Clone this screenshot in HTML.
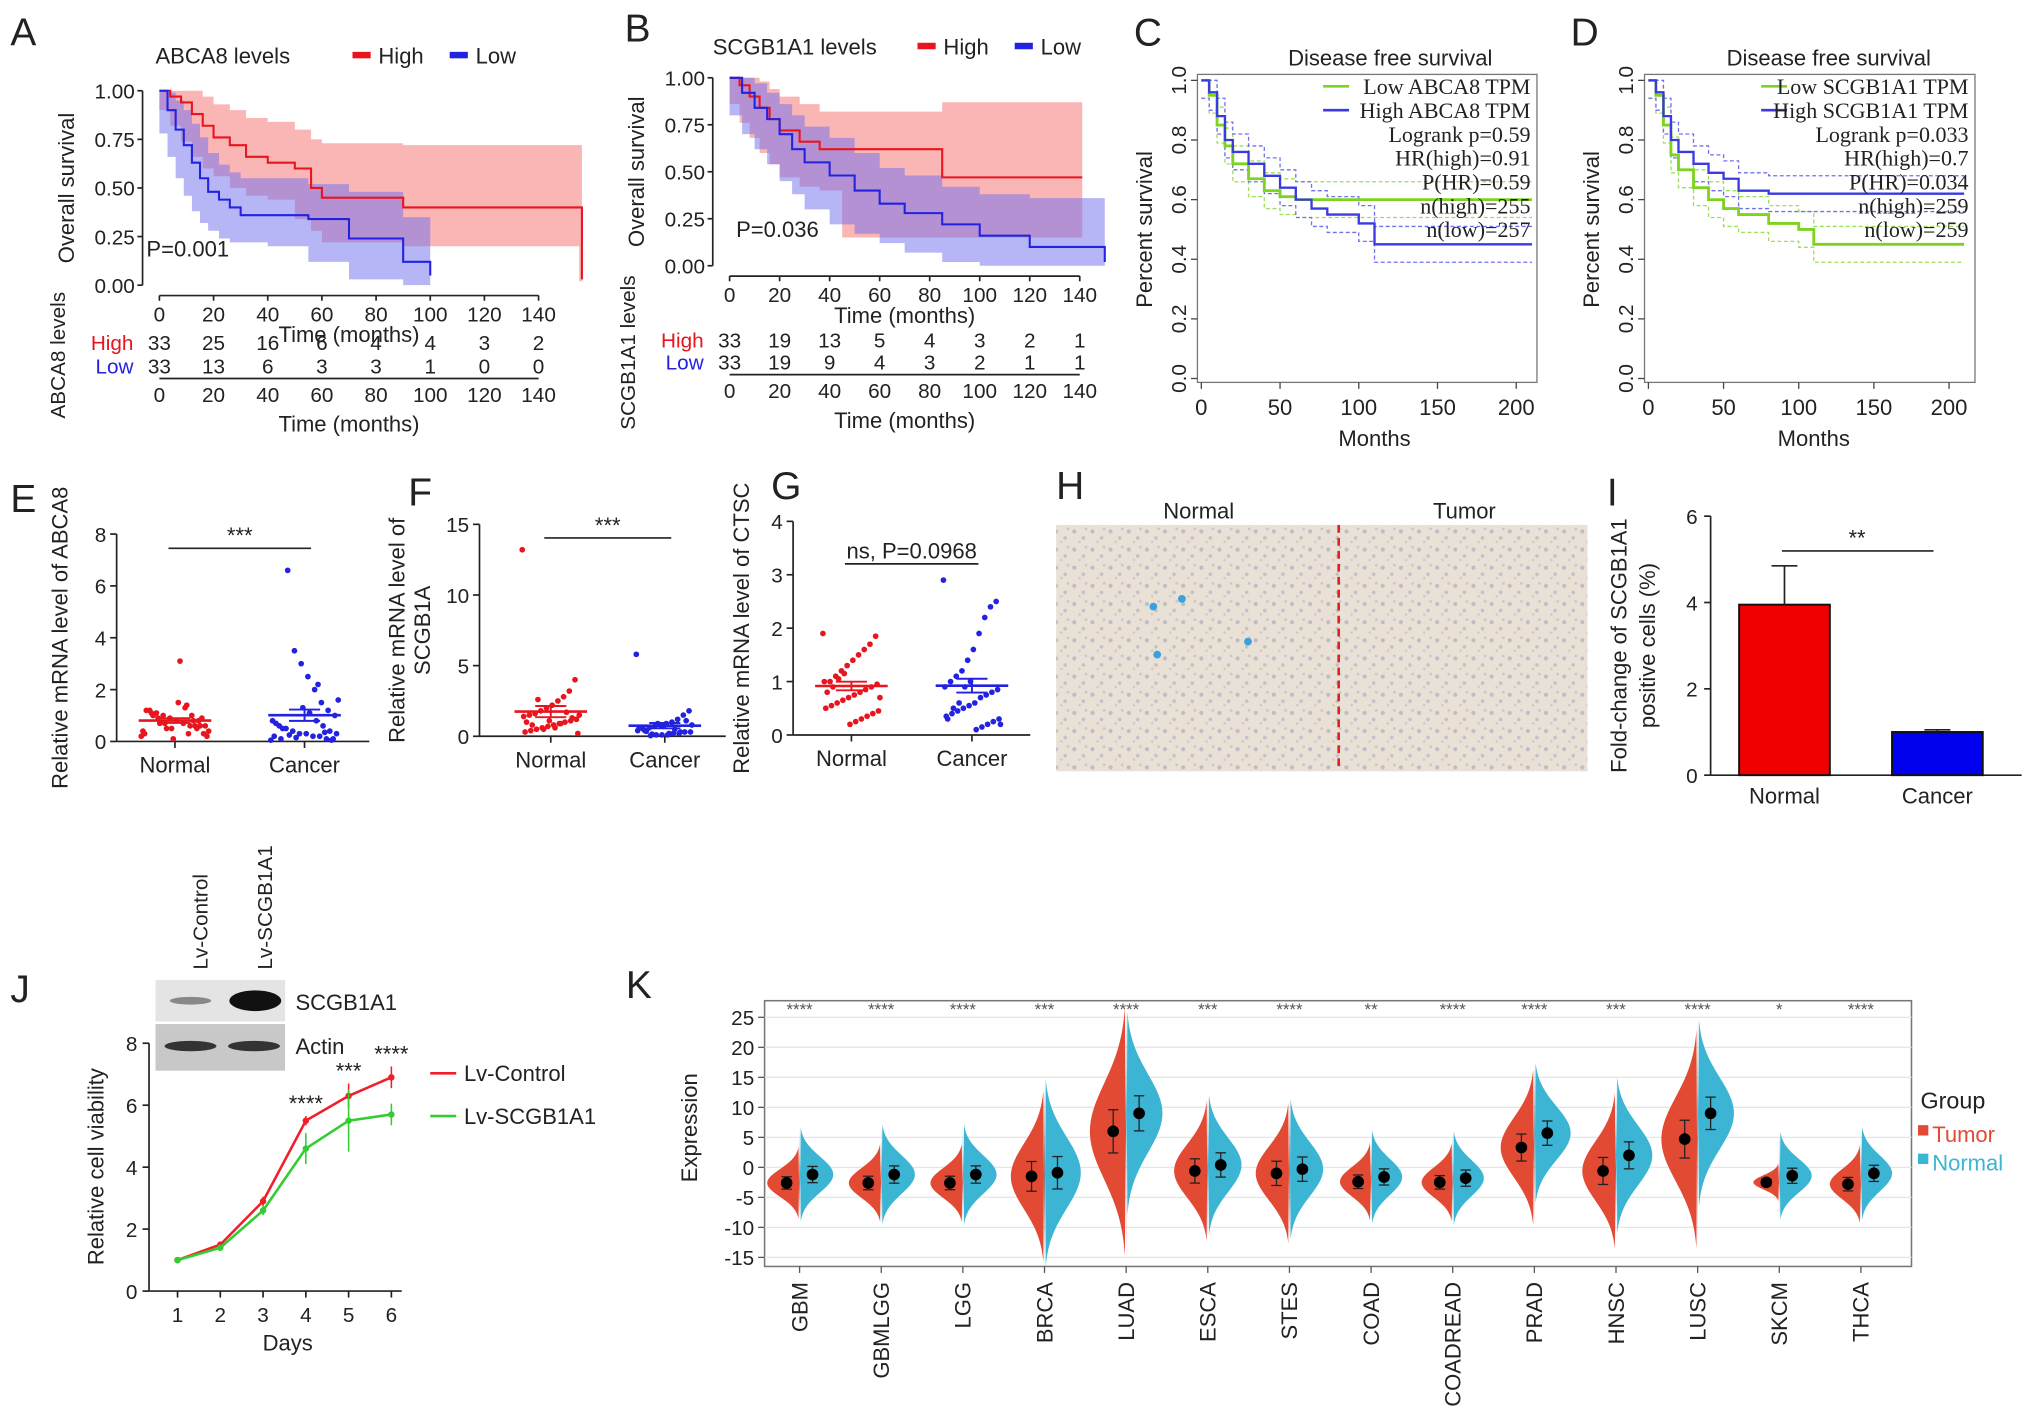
<!DOCTYPE html>
<html><head><meta charset="utf-8"><style>
html,body{margin:0;padding:0;background:#fff;}
svg{display:block;font-family:"Liberation Sans",sans-serif;}
</style></head><body>
<svg id="fig" width="2032" height="1422" viewBox="0 0 1568 1097" preserveAspectRatio="none" xmlns="http://www.w3.org/2000/svg">
<defs>
<pattern id="tissue" width="14" height="14" patternUnits="userSpaceOnUse">
<rect width="14" height="14" fill="#ece6dc"/>
<circle cx="3" cy="4" r="1.6" fill="#b3aec8"/><circle cx="10" cy="9" r="1.4" fill="#bbb6cc"/><circle cx="7" cy="12" r="1" fill="#cfc5b4"/><circle cx="12" cy="2" r="1.1" fill="#c5bdd0"/>
</pattern>
</defs>
<g id="root"></g>
</svg>
<script>
// ---------- DATA ----------
const timeTicks = [0,20,40,60,80,100,120,140];
const kmAHighT = [0,4,8,12,16,20,26,32,40,50,56,60,90,155,156];
const kmAHighS = [1,0.97,0.94,0.88,0.82,0.76,0.72,0.66,0.63,0.6,0.5,0.45,0.4,0.4,0.03];
const kmAHighU = [1,1,1,1,0.97,0.93,0.9,0.86,0.84,0.8,0.75,0.73,0.72,0.72,0.72];
const kmAHighL = [1,0.9,0.82,0.74,0.66,0.6,0.56,0.5,0.46,0.44,0.34,0.28,0.22,0.2,0.02];
const kmALowT = [0,3,6,9,12,15,18,22,26,30,40,55,70,90,100];
const kmALowS = [1,0.9,0.8,0.72,0.63,0.55,0.48,0.44,0.4,0.36,0.36,0.34,0.24,0.12,0.05];
const kmALowU = [1,0.99,0.95,0.9,0.83,0.76,0.68,0.62,0.58,0.55,0.55,0.52,0.48,0.35,0.3];
const kmALowL = [1,0.78,0.66,0.55,0.46,0.38,0.32,0.28,0.24,0.22,0.22,0.2,0.12,0.03,0];
const kmBHighT = [0,4,8,12,16,20,28,36,45,85,140,141];
const kmBHighS = [1,0.96,0.9,0.84,0.78,0.72,0.66,0.62,0.62,0.47,0.47,0.47];
const kmBHighU = [1,1,1,0.98,0.94,0.9,0.86,0.82,0.82,0.87,0.87,0.87];
const kmBHighL = [1,0.86,0.76,0.68,0.6,0.54,0.47,0.42,0.4,0.15,0.15,0.15];
const kmBLowT = [0,5,10,15,20,25,30,40,50,60,70,85,100,120,150];
const kmBLowS = [1,0.92,0.84,0.78,0.7,0.62,0.55,0.48,0.4,0.33,0.28,0.22,0.16,0.1,0.02];
const kmBLowU = [1,1,0.97,0.92,0.86,0.8,0.74,0.68,0.6,0.52,0.48,0.42,0.38,0.36,0.36];
const kmBLowL = [1,0.8,0.7,0.62,0.54,0.45,0.38,0.3,0.22,0.17,0.12,0.07,0.02,0,0];
const riskAHigh = [33,25,16,6,4,4,3,2];
const riskALow = [33,13,6,3,3,1,0,0];
const riskBHigh = [33,19,13,5,4,3,2,1];
const riskBLow = [33,19,9,4,3,2,1,1];
const monthTicks = [0,50,100,150,200];
const survTicks = [0,0.2,0.4,0.6,0.8,1.0];
const dfsCLowT = [0,5,10,15,20,30,40,50,60,70,80,100,150,210];
const dfsCLowS = [1,0.95,0.85,0.78,0.72,0.67,0.63,0.61,0.6,0.6,0.6,0.6,0.6,0.6];
const dfsCHighT = [0,5,10,15,20,30,40,50,60,70,80,100,110,150,210];
const dfsCHighS = [1,0.96,0.88,0.8,0.76,0.72,0.68,0.64,0.6,0.57,0.55,0.52,0.45,0.45,0.45];
const dfsDLowT = [0,5,10,15,20,30,40,50,60,80,100,110,150,210];
const dfsDLowS = [1,0.95,0.85,0.75,0.7,0.64,0.6,0.57,0.55,0.52,0.5,0.45,0.45,0.45];
const dfsDHighT = [0,5,10,15,20,30,40,50,60,80,100,150,210];
const dfsDHighS = [1,0.96,0.88,0.8,0.76,0.72,0.69,0.67,0.63,0.62,0.62,0.62,0.62];
const eNormal = [0.2,0.3,0.5,0.6,0.7,0.8,0.9,1.0,1.1,1.2,0.4,0.6,0.8,1.0,1.3,1.5,0.5,0.7,0.9,1.1,0.3,0.2,0.6,0.8,1.4,3.1,0.1,0.5,0.7,1.0,1.2,0.4,0.9,0.6,0.3];
const eCancer = [0.05,0.1,0.1,0.2,0.2,0.3,0.3,0.4,0.5,0.6,0.8,1.0,1.2,1.5,2.0,2.5,3.0,3.5,6.6,0.1,0.2,0.3,0.4,0.6,0.8,1.1,1.3,0.15,0.25,0.5,0.7,1.6,0.05,0.35,2.2];
const fNormal = [13.2,4.0,3.2,2.8,2.5,2.2,2.0,1.8,1.6,1.5,1.4,1.2,1.1,1.0,0.9,0.8,0.7,0.6,0.5,0.4,0.3,0.2,1.3,1.7,0.9,0.6,1.1,0.5,2.6,0.8,1.0,1.5];
const fCancer = [5.8,1.8,1.5,1.2,1.0,0.9,0.8,0.7,0.6,0.5,0.4,0.3,0.3,0.2,0.2,0.1,0.1,0.1,0.05,0.4,0.6,0.8,1.1,0.3,0.5,0.2,0.7,0.9,0.15,0.35];
const gNormal = [1.9,1.85,1.7,1.6,1.5,1.4,1.3,1.2,1.1,1.0,1.0,0.95,0.9,0.85,0.8,0.75,0.7,0.65,0.6,0.55,0.5,0.45,0.4,0.35,0.3,0.25,0.2,1.15,1.05,0.9,0.8,0.7];
const gCancer = [2.9,2.5,2.4,2.2,1.9,1.6,1.4,1.2,1.1,1.0,0.9,0.85,0.8,0.75,0.7,0.6,0.55,0.5,0.45,0.4,0.35,0.3,0.25,0.2,0.15,0.1,1.0,0.9,0.6,0.5,0.3,0.2];
const iCats = ['Normal','Cancer'];
const iVals = [3.95,1.0];
const iErr = [0.9,0.05];
const jDays = [1,2,3,4,5,6];
const jControl = [1.0,1.5,2.9,5.5,6.3,6.9];
const jControlErr = [0.05,0.1,0.15,0.15,0.4,0.35];
const jScgb = [1.0,1.4,2.6,4.6,5.5,5.7];
const jScgbErr = [0.05,0.1,0.15,0.5,1.0,0.35];
const jStars = ['','','','****','***','****'];
const kCats = ['GBM','GBMLGG','LGG','BRCA','LUAD','ESCA','STES','COAD','COADREAD','PRAD','HNSC','LUSC','SKCM','THCA'];
const kTumorMean = [-2.6,-2.6,-2.6,-1.5,6.0,-0.6,-1.0,-2.4,-2.5,3.3,-0.6,4.7,-2.5,-2.8];
const kNormalMean = [-1.2,-1.2,-1.2,-0.9,9.0,0.4,-0.3,-1.6,-1.8,5.7,2.0,9.0,-1.4,-1.0];
const kTumorSd = [2.3,2.5,2.5,5.5,8.0,4.5,4.5,2.5,2.5,5.0,5.0,7.0,1.2,2.5];
const kNormalSd = [3.0,3.2,3.2,6.0,6.5,4.5,4.5,3.0,3.0,4.5,5.0,6.0,2.8,3.0];
const kTumorW = [25,25,25,26,28,26,26,24,24,26,26,28,20,24];
const kNormalW = [26,26,26,28,28,26,26,24,24,28,28,28,25,24];
const kStars = ['****','****','****','***','****','***','****','**','****','****','***','****','*','****'];
const kYTicks = [25,20,15,10,5,0,-5,-10,-15];

// ---------- HELPERS ----------
const NS='http://www.w3.org/2000/svg';
const root=document.getElementById('root');
function el(tag,parent){const e=document.createElementNS(NS,tag);(parent||root).appendChild(e);return e;}
function set(e,o){for(const k in o)e.setAttribute(k,o[k]);return e;}
function txt(parent,x,y,s,size,opt){const t=el('text',parent);set(t,{x:x,y:y,'font-size':size,fill:(opt&&opt.fill)||'#222','text-anchor':(opt&&opt.anchor)||'middle'});if(opt&&opt.rot)t.setAttribute('transform','rotate('+opt.rot+' '+x+' '+y+')');if(opt&&opt.family)t.setAttribute('font-family',opt.family);t.textContent=s;return t;}
function line(parent,x1,y1,x2,y2,stroke,w){const l=el('line',parent);set(l,{x1:x1,y1:y1,x2:x2,y2:y2,stroke:stroke||'#222','stroke-width':w||1.3});return l;}
function stepPath(T,S,sx,sy){let d='M'+sx(T[0])+','+sy(S[0]);for(let i=1;i<T.length;i++){d+=' H'+sx(T[i])+' V'+sy(S[i]);}return d;}
function bandPath(T,U,L,sx,sy){let d='M'+sx(T[0])+','+sy(U[0]);for(let i=1;i<T.length;i++){d+=' H'+sx(T[i])+' V'+sy(U[i]);}for(let i=T.length-1;i>=1;i--){d+=' V'+sy(L[i])+' H'+sx(T[i-1]);}d+=' V'+sy(L[0])+'Z';return d;}
function panelLetter(x,y,s){const t=txt(root,x,y,s,30,{anchor:'start'});}

// ---------- KM panels A,B ----------
function kmPanel(cfg){
  const g=el('g');
  
  
  const sx=t=>cfg.x0+t*cfg.xs, sy=s=>cfg.y0-s*cfg.ys;
  const b1=el('path',g);set(b1,{d:bandPath(cfg.hT,cfg.hU,cfg.hL,sx,sy),fill:'rgba(245,120,120,0.55)'});
  
  
  const b2=el('path',g);set(b2,{d:bandPath(cfg.lT,cfg.lU,cfg.lL,sx,sy),fill:'rgba(110,110,240,0.5)'});
  
  
  const p1=el('path',g);set(p1,{d:stepPath(cfg.hT,cfg.hS,sx,sy),fill:'none',stroke:'#e8141e','stroke-width':1.6});
  
  
  const p2=el('path',g);set(p2,{d:stepPath(cfg.lT,cfg.lS,sx,sy),fill:'none',stroke:'#2222e0','stroke-width':1.6});
  
  
  line(g,cfg.ax,sy(1),cfg.ax,sy(0));
  line(g,sx(0),sy(0)+8,sx(140),sy(0)+8);
  [0,0.25,0.5,0.75,1].forEach(v=>{line(g,cfg.ax-4,sy(v),cfg.ax,sy(v));txt(g,cfg.ax-6,sy(v)+6,v.toFixed(2),16,{anchor:'end'});});
  timeTicks.forEach(t=>{line(g,sx(t),sy(0)+8,sx(t),sy(0)+12);txt(g,sx(t),sy(0)+28,String(t),16);});
  txt(g,cfg.ax-53,(sy(1)+sy(0))/2,'Overall survival',17,{rot:-90});
  txt(g,sx(70),sy(0)+44,'Time (months)',17);
  txt(g,cfg.px,cfg.py,cfg.p,17,{anchor:'start'});
  txt(g,cfg.tx,cfg.ty,cfg.title,17,{anchor:'start'});
  const lh=el('rect',g);set(lh,{x:cfg.lx,y:cfg.ty-9,width:14,height:5,fill:'#e8141e'});
  txt(g,cfg.lx+20,cfg.ty,'High',17,{anchor:'start'});
  const ll=el('rect',g);set(ll,{x:cfg.lx+75,y:cfg.ty-9,width:14,height:5,fill:'#2222e0'});
  txt(g,cfg.lx+95,cfg.ty,'Low',17,{anchor:'start'});
  // risk table
  txt(g,sx(0)-20,cfg.r1,'High',16,{anchor:'end',fill:'#e8141e'});
  txt(g,sx(0)-20,cfg.r2,'Low',16,{anchor:'end',fill:'#2222e0'});
  cfg.rH.forEach((v,i)=>txt(g,sx(timeTicks[i]),cfg.r1,String(v),16));
  cfg.rL.forEach((v,i)=>txt(g,sx(timeTicks[i]),cfg.r2,String(v),16));
  line(g,sx(0),cfg.r2+4,sx(140),cfg.r2+4);
  timeTicks.forEach(t=>{txt(g,sx(t),cfg.r2+22,String(t),16);});
  txt(g,sx(70),cfg.r2+45,'Time (months)',17);
  txt(g,cfg.ax-60,cfg.r1+4,cfg.side,16,{rot:-90});
}
kmPanel({name:'km-panel-a',x0:123,xs:2.09,y0:220,ys:150,ax:110,hT:kmAHighT,hS:kmAHighS,hU:kmAHighU,hL:kmAHighL,lT:kmALowT,lS:kmALowS,lU:kmALowU,lL:kmALowL,
  px:113,py:198,p:'P=0.001',tx:120,ty:49,title:'ABCA8 levels',lx:272,r1:270,r2:288,rH:riskAHigh,rL:riskALow,side:'ABCA8 levels'});
kmPanel({name:'km-panel-b',x0:563,xs:1.93,y0:205,ys:145,ax:550,hT:kmBHighT,hS:kmBHighS,hU:kmBHighU,hL:kmBHighL,lT:kmBLowT,lS:kmBLowS,lU:kmBLowU,lL:kmBLowL,
  px:568,py:183,p:'P=0.036',tx:550,ty:42,title:'SCGB1A1 levels',lx:708,r1:268,r2:285,rH:riskBHigh,rL:riskBLow,side:'SCGB1A1 levels'});
panelLetter(8,35,'A');panelLetter(482,32,'B');

// ---------- DFS panels C,D ----------
function dfsPanel(cfg){
  const g=el('g');
  
  
  const sx=t=>cfg.x0+t*cfg.xs, sy=s=>cfg.y0-s*cfg.ys;
  const fr=el('rect',g);set(fr,{x:cfg.x0-3,y:sy(1.02),width:cfg.w,height:sy(0)-sy(1.02)+3,fill:'none',stroke:'#777','stroke-width':1});
  const sh=(S,d)=>S.map(v=>Math.max(0,Math.min(1,v+d)));
  [[cfg.lT,cfg.lS,'#9be05a'],[cfg.hT,cfg.hS,'#7070ee']].forEach(([T,S,c])=>{
    [-0.06,0.06].forEach(d=>{const p=el('path',g);set(p,{d:stepPath(T,sh(S,d),sx,sy),fill:'none',stroke:c,'stroke-width':1,'stroke-dasharray':'3,2'});});
  });
  const pl=el('path',g);set(pl,{d:stepPath(cfg.lT,cfg.lS,sx,sy),fill:'none',stroke:'#7ed321','stroke-width':2.2});
  
  
  const ph=el('path',g);set(ph,{d:stepPath(cfg.hT,cfg.hS,sx,sy),fill:'none',stroke:'#3a3ae0','stroke-width':1.8});
  
  
  survTicks.forEach(v=>{line(g,cfg.x0-8,sy(v),cfg.x0-3,sy(v),'#444',1);txt(g,cfg.x0-12,sy(v),v.toFixed(1),16,{rot:-90});});
  monthTicks.forEach(t=>{line(g,sx(t),sy(0)+3,sx(t),sy(0)+8,'#444',1);txt(g,sx(t),sy(0)+28,String(t),17);});
  txt(g,cfg.x0-38,sy(0.5),'Percent survival',17,{rot:-90});
  txt(g,sx(110),sy(0)+52,'Months',17);
  txt(g,sx(120),sy(1.05),'Disease free survival',17);
  const lx=cfg.x0+cfg.w-8;
  const fam='"Liberation Serif",serif';
  line(g,lx-160,sy(0.98),lx-140,sy(0.98),'#7ed321',2);
  line(g,lx-160,sy(0.9),lx-140,sy(0.9),'#3a3ae0',2);
  cfg.leg.forEach((s,i)=>txt(g,lx,sy(0.98-i*0.08)+6,s,17,{anchor:'end',family:fam}));
}
dfsPanel({name:'dfs-panel-c',x0:927,xs:1.215,y0:292,ys:230,w:262,lT:dfsCLowT,lS:dfsCLowS,hT:dfsCHighT,hS:dfsCHighS,
  leg:['Low ABCA8 TPM','High ABCA8 TPM','Logrank p=0.59','HR(high)=0.91','P(HR)=0.59','n(high)=255','n(low)=257']});
dfsPanel({name:'dfs-panel-d',x0:1272,xs:1.16,y0:292,ys:230,w:255,lT:dfsDLowT,lS:dfsDLowS,hT:dfsDHighT,hS:dfsDHighS,
  leg:['Low SCGB1A1 TPM','High SCGB1A1 TPM','Logrank p=0.033','HR(high)=0.7','P(HR)=0.034','n(high)=259','n(low)=259']});
panelLetter(875,35,'C');panelLetter(1212,35,'D');

// ---------- Scatter panels E,F,G ----------
function scatterPanel(cfg){
  const g=el('g');
  
  
  const sy=v=>cfg.y0-v*cfg.ys;
  line(g,cfg.ax,sy(cfg.max),cfg.ax,sy(0));
  line(g,cfg.ax,sy(0),cfg.xe,sy(0));
  cfg.ticks.forEach(v=>{line(g,cfg.ax-5,sy(v),cfg.ax,sy(v));txt(g,cfg.ax-8,sy(v)+6,String(v),16,{anchor:'end'});});
  [[cfg.n,cfg.nx,'#e8141e'],[cfg.c,cfg.cx,'#2222e0']].forEach(([arr,cx,col])=>{
    arr.forEach((v,i)=>{const d=el('circle',g);set(d,{cx:cx+((i*37)%41-20)*cfg.jit,cy:sy(v),r:2.2,fill:col});
      
      });
    const m=arr.reduce((a,b)=>a+b,0)/arr.length;
    const sd=Math.sqrt(arr.reduce((a,b)=>a+(b-m)*(b-m),0)/arr.length)/Math.sqrt(arr.length);
    line(g,cx-28,sy(m),cx+28,sy(m),col,2);
    line(g,cx,sy(m-sd),cx,sy(m+sd),col,1.5);
    line(g,cx-12,sy(m-sd),cx+12,sy(m-sd),col,1.5);line(g,cx-12,sy(m+sd),cx+12,sy(m+sd),col,1.5);
    line(g,cx,sy(0),cx,sy(0)+5);
  });
  txt(g,cfg.nx,sy(0)+24,'Normal',17);txt(g,cfg.cx,sy(0)+24,'Cancer',17);
  line(g,cfg.nx-5,cfg.sigY,cfg.cx+5,cfg.sigY);
  txt(g,(cfg.nx+cfg.cx)/2,cfg.sigY-4,cfg.sig,17);
  cfg.ylab.forEach((s,i)=>txt(g,cfg.ylx+i*20,sy(cfg.max/2),s,17,{rot:-90}));
}
scatterPanel({name:'scatter-panel-e',ax:90,xe:285,y0:572,ys:20,max:8,ticks:[0,2,4,6,8],n:eNormal,c:eCancer,nx:135,cx:235,jit:1.3,sigY:423,sig:'***',ylab:['Relative mRNA level of ABCA8'],ylx:52});
scatterPanel({name:'scatter-panel-f',ax:370,xe:560,y0:568,ys:10.9,max:15,ticks:[0,5,10,15],n:fNormal,c:fCancer,nx:425,cx:513,jit:1.1,sigY:415,sig:'***',ylab:['Relative mRNA level of','SCGB1A'],ylx:312});
scatterPanel({name:'scatter-panel-g',ax:612,xe:795,y0:567,ys:41.2,max:4,ticks:[0,1,2,3,4],n:gNormal,c:gCancer,nx:657,cx:750,jit:1.1,sigY:435,sig:'ns, P=0.0968',ylab:['Relative mRNA level of CTSC'],ylx:578});
panelLetter(8,395,'E');panelLetter(315,390,'F');panelLetter(595,385,'G');

// ---------- H image ----------
(function(){
  const g=el('g');
  
  
  const r=el('rect',g);set(r,{x:815,y:405,width:410,height:190,fill:'url(#tissue)'});
  const r2=el('rect',g);set(r2,{x:815,y:405,width:410,height:190,fill:'rgba(225,215,200,0.3)'});
  line(g,1033,405,1033,595,'#e02020',2).setAttribute('stroke-dasharray','6,4');
  [[890,468],[912,462],[963,495],[893,505]].forEach(p=>{const c=el('circle',g);set(c,{cx:p[0],cy:p[1],r:3,fill:'#3aa0e0'});});
  txt(g,925,400,'Normal',17);txt(g,1130,400,'Tumor',17);
})();
panelLetter(815,385,'H');

// ---------- I bar chart ----------
(function(){
  const g=el('g');
  
  
  const y0=598, ys=33.3, sy=v=>y0-v*ys;
  const cx=[1377,1495], cols=['#f00000','#0000ee'];
  line(g,1320,sy(6),1320,y0);line(g,1320,y0,1560,y0);
  [0,2,4,6].forEach(v=>{line(g,1315,sy(v),1320,sy(v));txt(g,1310,sy(v)+6,String(v),16,{anchor:'end'});});
  iVals.forEach((v,i)=>{
    const b=el('rect',g);set(b,{x:cx[i]-35,y:sy(v),width:70,height:y0-sy(v),fill:cols[i],stroke:'#111','stroke-width':1.5});
    
    
    line(g,cx[i],sy(v),cx[i],sy(v+iErr[i]));line(g,cx[i]-10,sy(v+iErr[i]),cx[i]+10,sy(v+iErr[i]));
    txt(g,cx[i],y0+22,iCats[i],17);
  });
  line(g,1375,425,1492,425);txt(g,1433,421,'**',17);
  txt(g,1255,498,'Fold-change of SCGB1A1',17,{rot:-90});txt(g,1277,498,'positive cells (%)',17,{rot:-90});
})();
panelLetter(1240,390,'I');

// ---------- J line chart ----------
(function(){
  const g=el('g');
  
  
  const b0=el('rect',g);set(b0,{x:120,y:756,width:100,height:32,fill:'#e4e4e4'});
  const b1=el('rect',g);set(b1,{x:120,y:790,width:100,height:36,fill:'#c8c8c8'});
  const e1=el('ellipse',g);set(e1,{cx:147,cy:772,rx:16,ry:3,fill:'#888'});
  const e2=el('ellipse',g);set(e2,{cx:197,cy:772,rx:20,ry:8,fill:'#111'});
  const e3=el('ellipse',g);set(e3,{cx:147,cy:807,rx:20,ry:4,fill:'#333'});
  const e4=el('ellipse',g);set(e4,{cx:196,cy:807,rx:20,ry:4,fill:'#333'});
  txt(g,228,779,'SCGB1A1',17,{anchor:'start'});txt(g,228,813,'Actin',17,{anchor:'start'});
  txt(g,160,748,'Lv-Control',16,{anchor:'start',rot:-90});txt(g,210,748,'Lv-SCGB1A1',16,{anchor:'start',rot:-90});
  const y0=996, ys=23.9, sy=v=>y0-v*ys, sx=d=>137+(d-1)*33;
  line(g,115,sy(8),115,y0);line(g,115,y0,310,y0);
  [0,2,4,6,8].forEach(v=>{line(g,110,sy(v),115,sy(v));txt(g,106,sy(v)+6,String(v),16,{anchor:'end'});});
  jDays.forEach(d=>{line(g,sx(d),y0,sx(d),y0+5);txt(g,sx(d),y0+24,String(d),16);});
  txt(g,222,1042,'Days',17);
  txt(g,80,900,'Relative cell viability',17,{rot:-90});
  [[jControl,jControlErr,'#f0202a','line-lv-control'],[jScgb,jScgbErr,'#33cc33','line-lv-scgb1a1']].forEach(([v,e,c,n])=>{
    const p=el('polyline',g);set(p,{points:v.map((y,i)=>sx(jDays[i])+','+sy(y)).join(' '),fill:'none',stroke:c,'stroke-width':2});
    
    
    v.forEach((y,i)=>{line(g,sx(jDays[i]),sy(y-e[i]),sx(jDays[i]),sy(y+e[i]),c,1.2);const d=el('circle',g);set(d,{cx:sx(jDays[i]),cy:sy(y),r:2.5,fill:c});});
  });
  jStars.forEach((s,i)=>{if(s)txt(g,sx(jDays[i]),sy(jControl[i]+jControlErr[i])-4,s,17);});
  line(g,332,828,352,828,'#f0202a',2);txt(g,358,834,'Lv-Control',17,{anchor:'start'});
  line(g,332,861,352,861,'#33cc33',2);txt(g,358,867,'Lv-SCGB1A1',17,{anchor:'start'});
})();
panelLetter(8,773,'J');

// ---------- K violins ----------
(function(){
  const g=el('g');
  
  
  const x0=590,x1=1475,yT=772,yB=977;
  const sy=v=>yB-7-(v+15)*4.63;
  const cx=i=>617+i*63;
  const fr=el('rect',g);set(fr,{x:x0,y:yT,width:x1-x0,height:yB-yT,fill:'#fff',stroke:'#777','stroke-width':1.2});
  kYTicks.forEach(v=>{line(g,x0,sy(v),x1,sy(v),'#e6e6e6',1);line(g,x0-5,sy(v),x0,sy(v),'#555',1);txt(g,x0-8,sy(v)+6,String(v),16,{anchor:'end'});});
  txt(g,538,870,'Expression',17,{rot:-90});
  kCats.forEach((c,i)=>{
    const x=cx(i);
    [[kTumorMean[i],kTumorSd[i],kTumorW[i],-1,'#e34a33','violin-tumor-'],[kNormalMean[i],kNormalSd[i],kNormalW[i],1,'#3cb4d4','violin-normal-']].forEach(([m,sd,w,dir,col,nm])=>{
      let d='M'+x+','+sy(m+2.6*sd);
      for(let k=-26;k<=26;k++){const v=m+k/10*sd;const wd=w*Math.exp(-0.5*(k/10)*(k/10));d+=' L'+(x+dir*wd)+','+sy(v);}
      d+=' L'+x+','+sy(m-2.6*sd)+'Z';
      const p=el('path',g);set(p,{d:d,fill:col});
      
      
    });
    [[kTumorMean[i],kTumorSd[i],x-10],[kNormalMean[i],kNormalSd[i],x+10]].forEach(([m,sd,px])=>{
      const e=sd*0.45;
      line(g,px,sy(m-e),px,sy(m+e),'#222',1);line(g,px-4,sy(m-e),px+4,sy(m-e),'#222',1);line(g,px-4,sy(m+e),px+4,sy(m+e),'#222',1);
      const dt=el('circle',g);set(dt,{cx:px,cy:sy(m),r:4.5,fill:'#000'});
    });
    txt(g,x,783,kStars[i],13,{fill:'#555'});
    line(g,x,yB,x,yB+5,'#555',1);
    txt(g,x+6,yB+12,c,17,{anchor:'end',rot:-90});
  });
  txt(g,1482,855,'Group',18,{anchor:'start'});
  const r1=el('rect',g);set(r1,{x:1480,y:868,width:8,height:8,fill:'#e34a33'});
  txt(g,1491,881,'Tumor',17,{anchor:'start',fill:'#e34a33'});
  const r2=el('rect',g);set(r2,{x:1480,y:890,width:8,height:8,fill:'#3cb4d4'});
  txt(g,1491,903,'Normal',17,{anchor:'start',fill:'#3cb4d4'});
})();
panelLetter(483,770,'K');
</script>
</body></html>
